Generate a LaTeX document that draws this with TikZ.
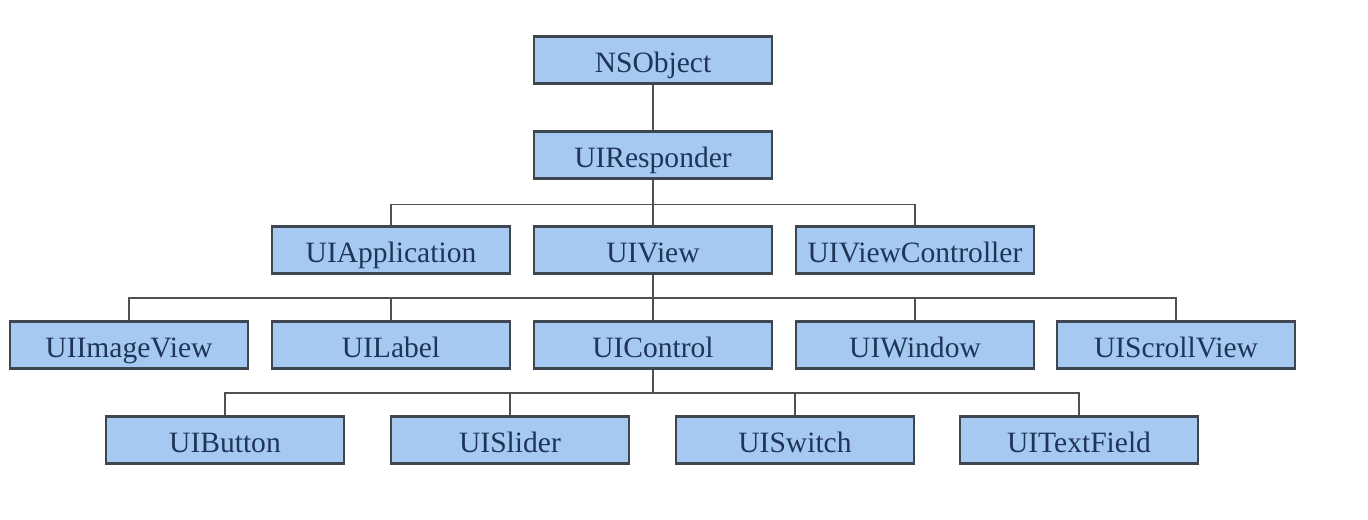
\documentclass[tikz,border=0pt]{standalone}
\usepackage{fontspec}
\setmainfont{Liberation Serif}
\usepackage{xcolor}
\usetikzlibrary{calc}

\definecolor{boxfill}{HTML}{A6C9F2}
\definecolor{boxline}{HTML}{3E4650}
\definecolor{boxtext}{HTML}{1E3558}
\definecolor{wire}{HTML}{505050}

\tikzset{
	cls/.style={draw=boxline, line width=1.2pt, fill=boxfill, text=boxtext,
		minimum width=4.76cm, minimum height=0.94cm, inner sep=0pt,
		text height=16.3pt, text depth=1.8pt,
		font=\fontsize{16.8}{20}\selectfont},
	wire/.style={draw=wire, line width=1pt}
}

\begin{document}
\begin{tikzpicture}
	\useasboundingbox [fill=white] (0,0) rectangle (27.36,-10.4);

	\node [cls] (nsobj) at (13.06,-1.2) {NSObject};
	\node [cls] (resp) at (13.06,-3.1) {UIResponder};

	\node [cls] (app) at (7.82,-5.0) {UIApplication};
	\node [cls] (view) at (13.06,-5.0) {UIView};
	\node [cls] (vctrl) at (18.3,-5.0) {UIViewController};

	\node [cls] (image) at (2.58,-6.9) {UIImageView};
	\node [cls] (label) at (7.82,-6.9) {UILabel};
	\node [cls] (ctrl) at (13.06,-6.9) {UIControl};
	\node [cls] (window) at (18.3,-6.9) {UIWindow};
	\node [cls] (scroll) at (23.52,-6.9) {UIScrollView};

	\node [cls] (button) at (4.5,-8.8) {UIButton};
	\node [cls] (slider) at (10.2,-8.8) {UISlider};
	\node [cls] (switch) at (15.9,-8.8) {UISwitch};
	\node [cls] (field) at (21.58,-8.8) {UITextField};

	\draw [wire] (nsobj.south) -- (resp.north);
	\foreach \kid in {app, view, vctrl}
		\draw [wire] (resp.south) -- ++(0,-0.5) -| (\kid.north);
	\foreach \kid in {image, label, ctrl, window, scroll}
		\draw [wire] (view.south) -- ++(0,-0.47) -| (\kid.north);
	\foreach \kid in {button, slider, switch, field}
		\draw [wire] (ctrl.south) -- ++(0,-0.47) -| (\kid.north);
\end{tikzpicture}
\end{document}
